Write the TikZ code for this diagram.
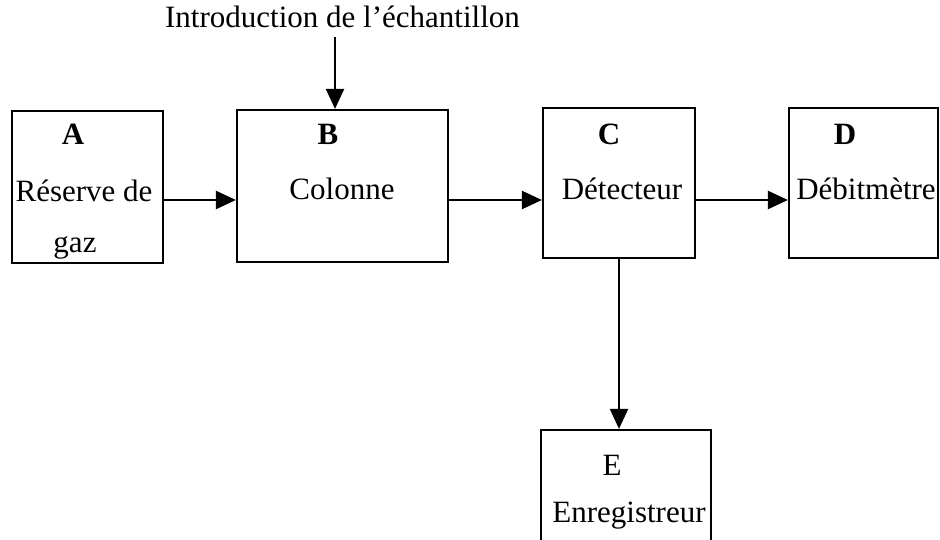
\documentclass[tikz,border=0pt]{standalone}
\usepackage{fontspec}
\setmainfont{Liberation Serif}
\usetikzlibrary{arrows.meta}
\begin{document}
\begin{tikzpicture}[x=1pt,y=-1pt,
  box/.style={draw=black, line width=2.2pt, inner sep=0pt, rectangle},
  lab/.style={anchor=base, inner sep=0pt, font=\fontsize{31}{37}\selectfont},
  arr/.style={draw=black, line width=2.2pt, -{Triangle[length=20pt,width=18pt]}}]
\clip (0,0) rectangle (940,540);
\fill[white] (0,0) rectangle (940,540);
% boxes
\node[box, minimum width=151pt, minimum height=152pt] (A) at (87.5,187) {};
\node[box, minimum width=211pt, minimum height=152pt] (B) at (342.5,186) {};
\node[box, minimum width=152pt, minimum height=150pt] (C) at (619,183) {};
\node[box, minimum width=149pt, minimum height=150pt] (D) at (863.5,183) {};
\node[box, minimum width=170pt, minimum height=140pt] (E) at (626,500) {};
% labels
\node[lab] (title) at (342.5,28) {Introduction de l’échantillon};
\node[lab] (Al) at (73,145) {\bfseries A};
\node[lab] (At1) at (84,202) {Réserve de};
\node[lab] (At2) at (75,253) {gaz};
\node[lab] (Bl) at (328,145) {\bfseries B};
\node[lab] (Bt) at (342,200) {Colonne};
\node[lab] (Cl) at (609,145) {\bfseries C};
\node[lab] (Ct) at (622,200) {Détecteur};
\node[lab] (Dl) at (845,145) {\bfseries D};
\node[lab] (Dt) at (866,200) {Débitmètre};
\node[lab] (El) at (612,475) {E};
\node[lab] (Et) at (629,522) {Enregistreur};
% connectors
\coordinate (row) at (0,200);
\coordinate (tin) at (335,37);
\draw[arr] (tin) -- (tin |- B.north);
\draw[arr] (A.east |- row) -- (B.west |- row);
\draw[arr] (B.east |- row) -- (C.west |- row);
\draw[arr] (C.east |- row) -- (D.west |- row);
\draw[arr] (C.south) -- (C.south |- E.north);
\end{tikzpicture}
\end{document}
